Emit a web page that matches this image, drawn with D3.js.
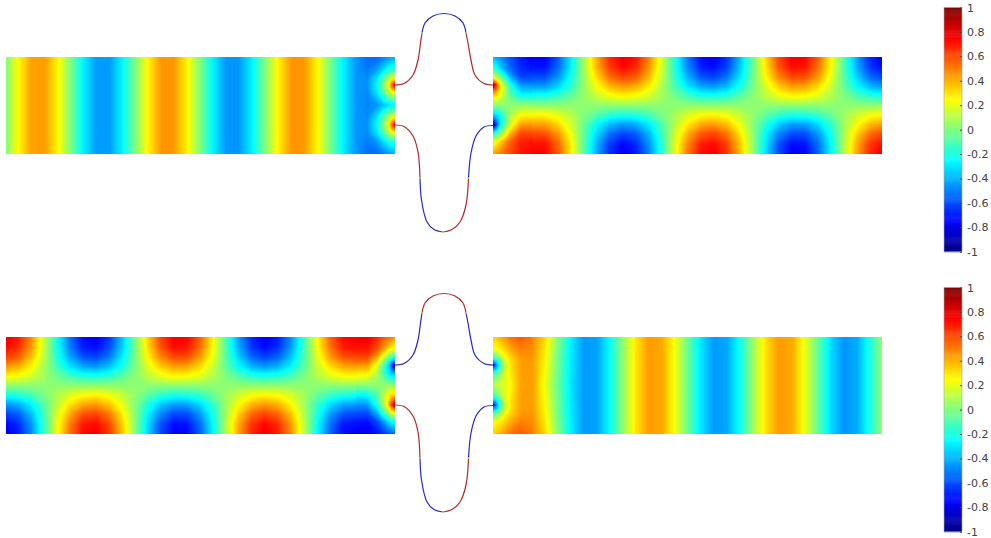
<!DOCTYPE html>
<html>
<head>
<meta charset="utf-8">
<title>Waveguide field</title>
<script src="https://cdn.jsdelivr.net/npm/d3@7"></script>
<style>
  html, body { margin: 0; background: #fff; }
  svg { display: block; }
  .bar-axis { opacity: 0.99; }
  .bar-axis text { font: 11px "DejaVu Sans", sans-serif; fill: #404040; }
  .bar-axis line { stroke: #404040; }
  .bar-axis path { display: none; }
</style>
</head>
<body>
<svg id="chart" width="991" height="538"></svg>
<script>
const jetValues = [-1, -0.75, -0.25, 0.25, 0.75, 1];
const jetColors = ['#000080', '#0000ff', '#00ffff', '#ffff00', '#ff0000', '#800000'];
const barTicks = [-1, -0.8, -0.6, -0.4, -0.2, 0, 0.2, 0.4, 0.6, 0.8, 1];

// mesh columns and rows, in guide units (guide is 389 x 97)
const leftBulkCols = [0, 12, 25, 38, 51, 64, 77, 90, 103, 116, 129, 142, 155, 168, 181, 194, 207, 220, 233, 246, 259, 272, 285, 298, 311, 324, 337, 350];
const rightBulkCols = [39, 52, 65, 78, 91, 104, 117, 130, 143, 156, 169, 182, 195, 208, 221, 234, 247, 260, 273, 286, 299, 312, 325, 338, 351, 364, 377, 389];
const leftPortCols = [350, 361, 371, 377, 382, 386, 389];
const rightPortCols = [0, 3, 7, 12, 18, 28, 39];
const portRows = [0, 12, 20, 25, 28, 31.5, 37, 48, 59, 64.5, 68, 71.5, 77, 85, 97];
const waveRows = [0, 10, 20, 30, 40, 48.5, 57, 67, 77, 87, 97];
const flatRows = [0, 97];
const bandRows = [0, 24, 48.5, 73, 97];

// top left guide
const topLeftBulk = [
  [0, .25, .43, .45, .28, .01, -.27, -.44, -.45, -.27, -.01, .27, .45, .45, .27, 0, -.27, -.45, -.45, -.27, 0, .27, .45, .45, .27, -.01, -.27, -.45],
  [0, .25, .43, .45, .28, .01, -.27, -.44, -.45, -.27, -.01, .27, .45, .45, .27, 0, -.27, -.45, -.45, -.27, 0, .27, .45, .45, .27, -.01, -.27, -.45]
];
const topLeftPort = [
  [-.45, -.54, -.55, -.50, -.45, -.42, -.42],
  [-.45, -.51, -.44, -.33, -.24, -.18, -.18],
  [-.45, -.48, -.31, -.13, .04, .13, .15],
  [-.45, -.47, -.27, -.04, .16, .43, .55],
  [-.45, -.47, -.25, -.03, .19, .55, .85],
  [-.45, -.47, -.27, -.04, .16, .43, .55],
  [-.45, -.48, -.31, -.13, .04, .13, .15],
  [-.45, -.49, -.45, -.37, -.32, -.28, -.27],
  [-.45, -.48, -.31, -.13, .04, .13, .15],
  [-.45, -.47, -.27, -.04, .16, .43, .55],
  [-.45, -.47, -.25, -.03, .19, .55, .85],
  [-.45, -.47, -.27, -.04, .16, .43, .55],
  [-.45, -.48, -.31, -.13, .04, .13, .15],
  [-.45, -.51, -.44, -.33, -.24, -.18, -.18],
  [-.45, -.54, -.55, -.50, -.45, -.42, -.42]
];

// top right guide
const topRightBulk = [
  [-.76, -.755, -.58, -.28, .08, .42, .675, .78, .71, .49, .165, -.20, -.52, -.73, -.775, -.65, -.375, -.04, .32, .62, .765, .75, .56, .26, -.10, -.43, -.68, -.77],
  [-.72, -.72, -.55, -.27, .08, .40, .64, .74, .67, .46, .16, -.19, -.49, -.69, -.73, -.62, -.36, -.04, .30, .59, .73, .71, .53, .25, -.09, -.41, -.64, -.73],
  [-.61, -.60, -.46, -.22, .06, .33, .54, .62, .57, .39, .13, -.16, -.41, -.58, -.62, -.52, -.30, -.03, .26, .49, .61, .60, .45, .21, -.08, -.34, -.54, -.61],
  [-.43, -.43, -.33, -.16, .05, .24, .38, .44, .40, .28, .09, -.11, -.29, -.41, -.44, -.37, -.21, -.02, .18, .35, .43, .42, .32, .15, -.06, -.24, -.38, -.43],
  [-.18, -.18, -.13, -.05, .05, .14, .21, .24, .22, .16, .07, -.02, -.11, -.17, -.18, -.15, -.07, .02, .12, .20, .24, .23, .18, .10, 0, -.09, -.15, -.18],
  [.03, .03, .03, .03, .03, .03, .03, .03, .03, .03, .03, .03, .03, .03, .03, .03, .03, .03, .03, .03, .03, .03, .03, .03, .03, .03, .03, .03],
  [.24, .24, .19, .11, .01, -.08, -.15, -.18, -.16, -.10, -.01, .08, .17, .23, .24, .21, .13, .04, -.06, -.14, -.18, -.17, -.12, -.04, .06, .15, .21, .24],
  [.43, .43, .33, .16, -.05, -.24, -.38, -.44, -.40, -.28, -.09, .11, .29, .41, .44, .37, .21, .02, -.18, -.35, -.43, -.42, -.32, -.15, .06, .24, .38, .43],
  [.61, .60, .46, .22, -.06, -.33, -.54, -.62, -.57, -.39, -.13, .16, .41, .58, .62, .52, .30, .03, -.26, -.49, -.61, -.60, -.45, -.21, .08, .34, .54, .61],
  [.72, .72, .55, .27, -.08, -.40, -.64, -.74, -.67, -.46, -.16, .19, .49, .69, .73, .62, .36, .04, -.30, -.59, -.73, -.71, -.53, -.25, .09, .41, .64, .73],
  [.76, .755, .58, .28, -.08, -.42, -.675, -.78, -.71, -.49, -.165, .20, .52, .73, .775, .65, .375, .04, -.32, -.62, -.765, -.75, -.56, -.26, .10, .43, .68, .77]
];
const topRightPort = [
  [-.38, -.42, -.46, -.52, -.60, -.70, -.76],
  [-.15, -.18, -.30, -.43, -.55, -.67, -.71],
  [.17, .12, 0, -.19, -.42, -.62, -.61],
  [.59, .46, .19, -.03, -.29, -.52, -.53],
  [.99, .67, .29, .05, -.21, -.45, -.46],
  [.68, .56, .29, .09, -.16, -.38, -.39],
  [.39, .36, .26, .10, -.11, -.27, -.28],
  [.03, .03, .03, .03, .03, .03, .03],
  [-.39, -.36, -.26, -.10, .11, .27, .28],
  [-.68, -.56, -.29, -.09, .16, .38, .39],
  [-.99, -.67, -.29, -.05, .21, .45, .46],
  [-.59, -.46, -.19, .03, .29, .52, .53],
  [-.17, -.12, 0, .19, .42, .62, .61],
  [.20, .24, .33, .45, .57, .69, .71],
  [.42, .46, .50, .56, .62, .72, .76]
];

// bottom left guide
const bottomLeftBulk = [
  [.78, .71, .48, .15, -.22, -.53, -.735, -.775, -.645, -.37, -.02, .335, .62, .765, .75, .57, .26, -.105, -.445, -.685, -.78, -.695, -.47, -.13, .24, .55, .735, .77],
  [.74, .67, .46, .14, -.21, -.50, -.70, -.73, -.61, -.35, -.02, .32, .59, .73, .71, .54, .25, -.10, -.42, -.65, -.74, -.66, -.45, -.12, .23, .52, .70, .73],
  [.62, .57, .38, .12, -.18, -.42, -.59, -.62, -.51, -.29, -.02, .27, .49, .61, .60, .45, .21, -.08, -.35, -.55, -.62, -.55, -.37, -.10, .19, .44, .59, .61],
  [.44, .40, .27, .08, -.12, -.30, -.41, -.44, -.36, -.21, -.01, .19, .35, .43, .42, .32, .15, -.06, -.25, -.39, -.44, -.39, -.26, -.07, .14, .31, .41, .43],
  [.24, .22, .16, .07, -.03, -.11, -.17, -.18, -.15, -.07, .02, .12, .20, .24, .23, .19, .10, 0, -.09, -.16, -.18, -.16, -.10, 0, .10, .18, .23, .24],
  [.03, .03, .03, .03, .03, .03, .03, .03, .03, .03, .03, .03, .03, .03, .03, .03, .03, .03, .03, .03, .03, .03, .03, .03, .03, .03, .03, .03],
  [-.18, -.16, -.10, -.01, .09, .17, .23, .24, .21, .13, .04, -.06, -.14, -.18, -.17, -.13, -.04, .06, .15, .22, .24, .22, .16, .07, -.04, -.12, -.17, -.18],
  [-.44, -.40, -.27, -.08, .12, .30, .41, .44, .36, .21, .01, -.19, -.35, -.43, -.42, -.32, -.15, .06, .25, .39, .44, .39, .26, .07, -.14, -.31, -.41, -.43],
  [-.62, -.57, -.38, -.12, .18, .42, .59, .62, .51, .29, .02, -.27, -.49, -.61, -.60, -.45, -.21, .08, .35, .55, .62, .55, .37, .10, -.19, -.44, -.59, -.61],
  [-.74, -.67, -.46, -.14, .21, .50, .70, .73, .61, .35, .02, -.32, -.59, -.73, -.71, -.54, -.25, .10, .42, .65, .74, .66, .45, .12, -.23, -.52, -.70, -.73],
  [-.78, -.71, -.48, -.15, .22, .53, .735, .775, .645, .37, .02, -.335, -.62, -.765, -.75, -.57, -.26, .105, .445, .685, .78, .695, .47, .13, -.24, -.55, -.735, -.77]
];
const bottomLeftPort = [
  [.77, .78, .68, .60, .55, .50, .47],
  [.71, .71, .59, .45, .32, .24, .21],
  [.61, .62, .42, .19, 0, -.12, -.17],
  [.53, .52, .29, .03, -.19, -.46, -.59],
  [.46, .45, .21, -.05, -.29, -.67, -.99],
  [.39, .38, .16, -.09, -.29, -.56, -.68],
  [.28, .27, .11, -.10, -.26, -.36, -.39],
  [.03, .03, .03, .03, .03, .03, .03],
  [-.28, -.27, -.11, .10, .26, .36, .39],
  [-.39, -.38, -.16, .09, .29, .56, .68],
  [-.46, -.45, -.21, .05, .29, .67, .99],
  [-.53, -.52, -.29, -.03, .19, .46, .59],
  [-.61, -.62, -.42, -.19, 0, .12, .17],
  [-.71, -.73, -.61, -.47, -.33, -.25, -.22],
  [-.77, -.78, -.72, -.66, -.60, -.57, -.55]
];

// bottom right guide
const bottomRightBulk = [
  [.50, .32, 0, -.27, -.45, -.43, -.24, .04, .30, .45, .42, .23, -.05, -.30, -.45, -.42, -.22, .06, .31, .45, .42, .21, -.06, -.32, -.46, -.41, -.20, .04],
  [.45, .26, -.03, -.29, -.45, -.43, -.24, .04, .30, .45, .42, .23, -.05, -.30, -.45, -.42, -.22, .06, .31, .45, .42, .21, -.06, -.32, -.46, -.41, -.20, .04],
  [.45, .22, -.05, -.30, -.45, -.43, -.24, .04, .30, .45, .42, .23, -.05, -.30, -.45, -.42, -.22, .06, .31, .45, .42, .21, -.06, -.32, -.46, -.41, -.20, .04],
  [.45, .26, -.03, -.29, -.45, -.43, -.24, .04, .30, .45, .42, .23, -.05, -.30, -.45, -.42, -.22, .06, .31, .45, .42, .21, -.06, -.32, -.46, -.41, -.20, .04],
  [.50, .32, 0, -.27, -.45, -.43, -.24, .04, .30, .45, .42, .23, -.05, -.30, -.45, -.42, -.22, .06, .31, .45, .42, .21, -.06, -.32, -.46, -.41, -.20, .04]
];
const bottomRightPort = [
  [.34, .35, .40, .46, .53, .58, .52],
  [.22, .25, .28, .34, .42, .50, .48],
  [-.09, -.05, .06, .24, .34, .45, .46],
  [-.48, -.38, -.13, .15, .31, .44, .45],
  [-.83, -.53, -.17, .13, .31, .44, .45],
  [-.49, -.39, -.14, .14, .31, .44, .45],
  [-.13, -.09, .03, .19, .29, .44, .45],
  [.10, .13, .15, .19, .27, .43, .45],
  [-.13, -.09, .03, .19, .29, .44, .45],
  [-.49, -.39, -.14, .14, .31, .44, .45],
  [-.83, -.53, -.17, .13, .31, .44, .45],
  [-.48, -.38, -.13, .15, .31, .44, .45],
  [-.09, -.05, .06, .24, .34, .45, .46],
  [.22, .25, .28, .34, .42, .50, .48],
  [.34, .35, .40, .46, .53, .58, .52]
];

// connecting wires, in page coordinates of the upper figure
const upperWireX = [395, 404, 413, 418, 420.5, 422, 425, 433, 444, 455, 463, 466, 468, 471, 475, 484, 493];
const upperWireY = [85, 83.5, 75, 60, 43, 33, 23, 16, 13.5, 16, 23, 33, 43, 60, 75, 83.5, 85];
const upperWireJoints = [5, 11];
const lowerWireX = [395, 404, 413, 418, 420, 421.5, 427, 434, 443, 452, 460, 466, 468.5, 471, 476, 484, 493];
const lowerWireY = [125, 126.5, 136, 152, 178, 200, 222, 229.5, 232, 229.5, 222, 205, 178, 153, 136, 127, 125.5];
const lowerWireJoints = [4, 8, 12];
const topUpperWireValues = [0.93, -0.88, 0.93];
const topLowerWireValues = [0.93, -0.88, 0.93, -0.88];
const bottomUpperWireValues = [-0.88, 0.93, -0.88];
const bottomLowerWireValues = [0.93, -0.88, 0.93, -0.88];
const jointValue = 0.1;

const svg = d3.select('#chart');
const color = d3.scaleLinear().domain(jetValues).range(jetColors).interpolate(d3.interpolateRgb).clamp(true);
const fieldLevels = d3.range(-1.01, 1.01, 0.01);
const guideY = d3.scaleLinear().domain([0, 97]).range([57, 154]);
const leftX = d3.scaleLinear().domain([0, 389]).range([6, 395]);
const rightX = d3.scaleLinear().domain([0, 389]).range([493, 882]);

// d3.contours puts value i at i + 0.5, so this maps grid index back to mesh position
function gridScale(positions, outer) {
  const domain = [0];
  const range = [outer(positions[0])];
  positions.forEach((p, i) => {
    domain.push(i + 0.5);
    range.push(outer(p));
  });
  domain.push(positions.length);
  range.push(outer(positions[positions.length - 1]));
  return d3.scaleLinear().domain(domain).range(range);
}

function drawMesh(root, cols, rows, values, xScale) {
  const gx = gridScale(cols, xScale);
  const gy = gridScale(rows, guideY);
  const path = d3.geoPath(d3.geoTransform({
    point(x, y) { this.stream.point(gx(x), gy(y)); }
  }));
  const bands = d3.contours()
    .size([cols.length, rows.length])
    .thresholds(fieldLevels)(values.flat());
  root.append('g')
    .selectAll('path')
    .data(bands.filter(d => d.coordinates.length))
    .join('path')
    .attr('d', path)
    .attr('fill', d => color(d.value + 0.005));
}

function drawWire(root, wireX, wireY, joints, sectionValues) {
  const points = wireX.map((x, i) => [x, wireY[i]]);
  const line = d3.line().curve(d3.curveCatmullRom);
  const cuts = [0, ...joints, points.length - 1];
  root.append('g')
    .selectAll('path')
    .data(sectionValues)
    .join('path')
    .attr('d', (d, i) => line(points.slice(cuts[i], cuts[i + 1] + 1)))
    .attr('fill', 'none')
    .attr('stroke', d => color(d))
    .attr('stroke-opacity', 0.85)
    .attr('stroke-width', 1.2);
  root.append('g')
    .selectAll('circle')
    .data(joints)
    .join('circle')
    .attr('cx', d => points[d][0])
    .attr('cy', d => points[d][1])
    .attr('r', 0.8)
    .attr('fill', color(jointValue));
}

function drawColorbar(root) {
  const barY = d3.scaleLinear().domain([-1, 1]).range([251.7, 7.5]);
  const levels = d3.range(-1, 1, 2 / 256);
  const bar = root.append('g');
  bar.selectAll('rect')
    .data(levels)
    .join('rect')
    .attr('x', 944)
    .attr('width', 18)
    .attr('y', d => barY(d + 2 / 256))
    .attr('height', d => barY(d) - barY(d + 2 / 256) + 0.5)
    .attr('fill', d => color(d + 1 / 256));
  bar.append('rect')
    .attr('x', 944)
    .attr('y', barY(1))
    .attr('width', 18)
    .attr('height', barY(-1) - barY(1))
    .attr('fill', 'none')
    .attr('stroke', '#a8a8a8')
    .attr('stroke-width', 0.6);
  root.append('g')
    .attr('class', 'bar-axis')
    .attr('transform', 'translate(962,0)')
    .call(d3.axisRight(barY)
      .tickValues(barTicks)
      .tickFormat(d => String(d))
      .tickSize(-2)
      .tickPadding(5))
    .call(g => g.selectAll('text').attr('x', 5));
}

function drawFigure(root, fields, wires) {
  drawMesh(root, leftBulkCols, fields.leftRows, fields.leftBulk, leftX);
  drawMesh(root, leftPortCols, portRows, fields.leftPort, leftX);
  drawMesh(root, rightBulkCols, fields.rightRows, fields.rightBulk, rightX);
  drawMesh(root, rightPortCols, portRows, fields.rightPort, rightX);
  drawWire(root, upperWireX, upperWireY, upperWireJoints, wires.upper);
  drawWire(root, lowerWireX, lowerWireY, lowerWireJoints, wires.lower);
  drawColorbar(root);
}

drawFigure(svg.append('g'), {
  leftRows: flatRows,
  leftBulk: topLeftBulk,
  leftPort: topLeftPort,
  rightRows: waveRows,
  rightBulk: topRightBulk,
  rightPort: topRightPort
}, { upper: topUpperWireValues, lower: topLowerWireValues });

drawFigure(svg.append('g').attr('transform', 'translate(0,280)'), {
  leftRows: waveRows,
  leftBulk: bottomLeftBulk,
  leftPort: bottomLeftPort,
  rightRows: bandRows,
  rightBulk: bottomRightBulk,
  rightPort: bottomRightPort
}, { upper: bottomUpperWireValues, lower: bottomLowerWireValues });
</script>
</body>
</html>
